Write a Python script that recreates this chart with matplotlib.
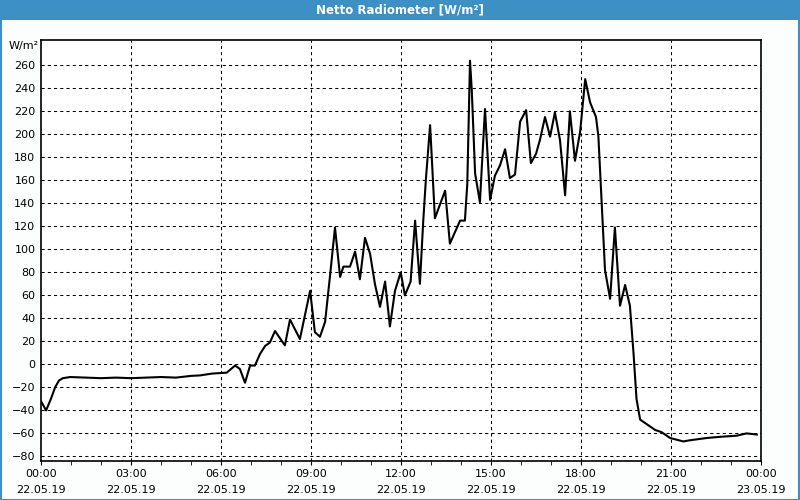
import matplotlib
matplotlib.use("Agg")
import matplotlib.pyplot as plt
from matplotlib.patches import Rectangle

# hours since 22.05.19 00:00 and net radiation in W/m²
hours = [0.0, 0.17, 0.33, 0.47, 0.6, 0.73, 0.97, 1.5, 2.0, 2.5, 3.0, 3.5, 4.0,
         4.5, 5.0, 5.3, 5.7, 6.19, 6.47, 6.63, 6.8, 6.97, 7.13, 7.3, 7.47, 7.63,
         7.8, 8.13, 8.3, 8.63, 8.97, 9.13, 9.3, 9.47, 9.63, 9.8, 9.97, 10.08,
         10.3, 10.47, 10.63, 10.8, 10.97, 11.13, 11.3, 11.47, 11.63, 11.8, 11.99,
         12.13, 12.32, 12.47, 12.63, 12.74, 12.83, 12.97, 13.13, 13.47, 13.63,
         13.97, 14.13, 14.21, 14.3, 14.36, 14.47, 14.63, 14.8, 14.97, 15.13,
         15.3, 15.47, 15.63, 15.8, 15.97, 16.17, 16.33, 16.5, 16.63, 16.8, 16.97,
         17.13, 17.3, 17.47, 17.63, 17.8, 17.97, 18.14, 18.3, 18.5, 18.58, 18.69,
         18.8, 18.97, 19.13, 19.3, 19.47, 19.63, 19.75, 19.85, 19.97, 20.47,
         20.69, 20.97, 21.41, 21.63, 22.19, 22.63, 23.19, 23.52, 23.86]
values = [-32, -40, -30, -20, -14, -12, -11, -11.5, -12, -11.5, -12, -11.5, -11,
          -11.5, -10, -9.6, -8, -7.2, -1, -4, -16, -1, -1, 9, 16, 19, 29,
          16.5, 39, 22, 64, 28, 24, 37, 76, 119, 76, 85,
          85, 98, 74, 110, 96, 70, 50, 72, 33, 64, 80,
          60, 72, 125, 70, 124, 161, 208, 127, 151, 105,
          125, 125, 157, 264, 238, 166, 141, 222, 143, 164,
          173, 187, 162, 165, 211, 221, 175, 183, 195, 215, 198,
          219, 195, 147, 220, 177, 202, 248, 228, 215, 198, 140,
          82, 57, 119, 51, 69, 51, 10, -30, -48, -57,
          -59, -64, -67, -66, -64, -63, -62, -60, -61]

yticks = list(range(-80, 261, 20))
xticks = list(range(0, 25, 3))
xlabels = ["00:00\n22.05.19", "03:00\n22.05.19", "06:00\n22.05.19",
           "09:00\n22.05.19", "12:00\n22.05.19", "15:00\n22.05.19",
           "18:00\n22.05.19", "21:00\n22.05.19", "00:00\n23.05.19"]

blue = "#3c90c4"

fig = plt.figure(figsize=(8, 5), dpi=100, facecolor="#fbfefd")
ax = fig.add_axes([41 / 800, 39 / 500, 720 / 800, 421 / 500])

ax.plot(hours, values, color="black", linewidth=1.5)

ax.set_xlim(0, 24)
ax.set_ylim(-84, 282)
ax.set_yticks(yticks)
ax.set_xticks(xticks)
ax.set_xticklabels(xlabels, linespacing=1.75)
ax.set_xticks(range(0, 25), minor=True)

ax.tick_params(axis="y", length=0, pad=4, labelsize=8)
ax.tick_params(axis="x", which="both", direction="out", length=3,
               labelsize=8, pad=3)

# dashed grid, vertical only at the inner 3 h marks
for y in yticks:
    ax.axhline(y, color="black", linewidth=0.75, linestyle=(0, (3, 3)), zorder=0)
for x in xticks[1:-1]:
    ax.axvline(x, color="black", linewidth=0.75, linestyle=(0, (3, 3)), zorder=0)

for s in ax.spines.values():
    s.set_linewidth(1.2)

fig.text(24 / 800, 1 - 46 / 500, "W/m²", fontsize=8, ha="center", va="center")

# window frame and title bar
fig.patches.append(Rectangle((0, 1 - 20 / 500), 1, 20 / 500, transform=fig.transFigure,
                             facecolor=blue, edgecolor="none", zorder=0))
fig.patches.append(Rectangle((0.5 / 800, 0.5 / 500), 798.5 / 800, 499 / 500,
                             transform=fig.transFigure, facecolor="none",
                             edgecolor=blue, linewidth=1.5, zorder=1))
fig.text(0.5, 1 - 10 / 500, "Netto Radiometer [W/m²]", color="white",
         fontsize=8.5, fontweight="bold", ha="center", va="center")

fig.savefig("out.png", dpi=100, facecolor=fig.get_facecolor())
